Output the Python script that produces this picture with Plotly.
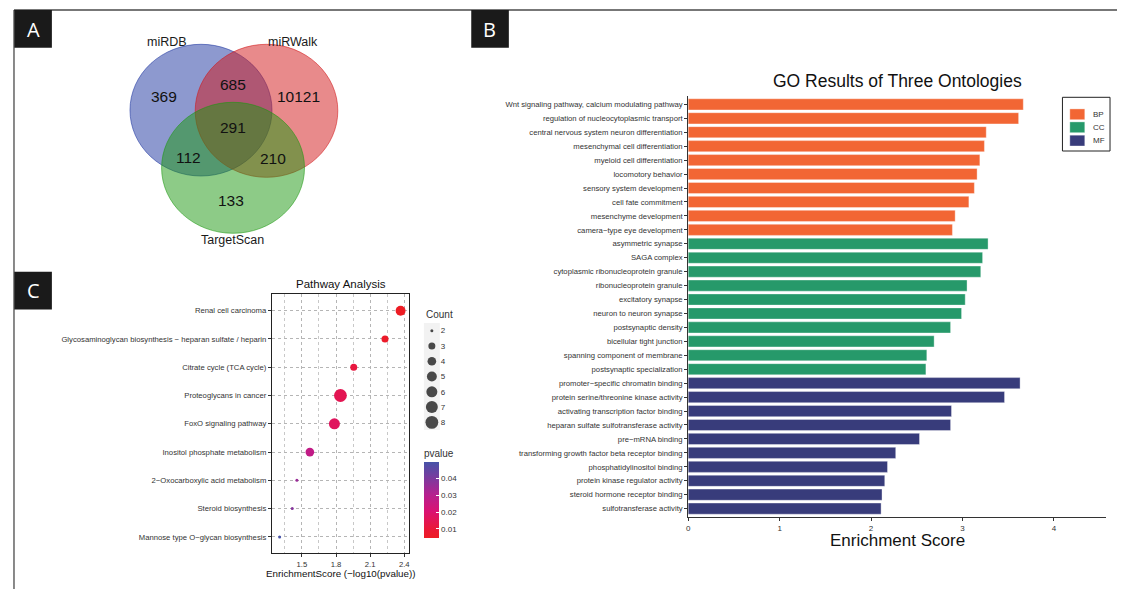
import numpy as np
import plotly.graph_objects as go

W, H = 1126, 597
OFF = 8                      # browser body margin
FW, FH = W - 2 * OFF, H - 2 * OFF
def px(x):
    return (x - OFF) / FW
def py(y):
    return 1 - (y - OFF) / FH

FONT = "Liberation Sans"
TXT = "#333333"

# ---------------- Panel A data (Venn) ----------------
venn_sets = ["miRDB", "miRWalk", "TargetScan"]
venn_regions = ["miRDB only", "miRDB & miRWalk", "miRWalk only", "all three",
                "miRDB & TargetScan", "miRWalk & TargetScan", "TargetScan only"]
venn_counts = [369, 685, 10121, 291, 112, 210, 133]

# ---------------- Panel B data (GO) ----------------
bp_terms = ["Wnt signaling pathway, calcium modulating pathway",
            "regulation of nucleocytoplasmic transport",
            "central nervous system neuron differentiation",
            "mesenchymal cell differentiation",
            "myeloid cell differentiation",
            "locomotory behavior",
            "sensory system development",
            "cell fate commitment",
            "mesenchyme development",
            "camera\u2212type eye development"]
bp_scores = [3.665, 3.614, 3.26, 3.24, 3.19, 3.16, 3.13, 3.07, 2.92, 2.89]

cc_terms = ["asymmetric synapse",
            "SAGA complex",
            "cytoplasmic ribonucleoprotein granule",
            "ribonucleoprotein granule",
            "excitatory synapse",
            "neuron to neuron synapse",
            "postsynaptic density",
            "bicellular tight junction",
            "spanning component of membrane",
            "postsynaptic specialization"]
cc_scores = [3.28, 3.22, 3.20, 3.05, 3.03, 2.99, 2.87, 2.69, 2.61, 2.60]

mf_terms = ["promoter\u2212specific chromatin binding",
            "protein serine/threonine kinase activity",
            "activating transcription factor binding",
            "heparan sulfate sulfotransferase activity",
            "pre\u2212mRNA binding",
            "transforming growth factor beta receptor binding",
            "phosphatidylinositol binding",
            "protein kinase regulator activity",
            "steroid hormone receptor binding",
            "sulfotransferase activity"]
mf_scores = [3.63, 3.46, 2.88, 2.87, 2.53, 2.27, 2.18, 2.15, 2.12, 2.11]

go_groups = ["BP", "CC", "MF"]
go_x_ticks = [0, 1, 2, 3, 4]

# ---------------- Panel C data (pathways) ----------------
path_terms = ["Renal cell carcinoma",
              "Glycosaminoglycan biosynthesis \u2212 heparan sulfate / heparin",
              "Citrate cycle (TCA cycle)",
              "Proteoglycans in cancer",
              "FoxO signaling pathway",
              "Inositol phosphate metabolism",
              "2\u2212Oxocarboxylic acid metabolism",
              "Steroid biosynthesis",
              "Mannose type O\u2212glycan biosynthesis"]
path_scores = [2.368, 2.231, 1.956, 1.839, 1.786, 1.570, 1.456, 1.415, 1.304]
path_counts = [5, 3, 3, 8, 6, 4, 2, 2, 2]
path_x_ticks = [1.5, 1.8, 2.1, 2.4]
count_levels = [2, 3, 4, 5, 6, 7, 8]
pvalue_ticks = [0.01, 0.02, 0.03, 0.04]

# ---------------- styles ----------------
go_colors = {"BP": "#F26634", "CC": "#26996A", "MF": "#383C7B"}
p_colorscale = [[0.0, "#ED1C24"], [0.12, "#EA1838"], [0.35, "#DA1272"],
                [0.57, "#B5208F"], [0.79, "#7B3A9E"], [1.0, "#4653A8"]]

def size_px(c):
    # ggplot-like area scale, size range 1..6, converted to pixel diameter
    lo, hi = min(count_levels), max(count_levels)
    s = 1 + 5 * np.sqrt((c - lo) / (hi - lo))
    return 1.04 + 1.96 * s

fig = go.Figure()

# ---------------- Panel B bars ----------------
all_terms = bp_terms + cc_terms + mf_terms
for grp, terms, scores in zip(go_groups, [bp_terms, cc_terms, mf_terms],
                              [bp_scores, cc_scores, mf_scores]):
    fig.add_trace(go.Bar(
        x=scores, y=terms, orientation="h", name=grp, width=0.8,
        marker=dict(color=go_colors[grp], line=dict(color="rgba(255,255,255,0.6)", width=0.6)),
        xaxis="x", yaxis="y", showlegend=False, hoverinfo="x+y"))

# ---------------- Panel C dots ----------------
pvals = [10 ** (-s) for s in path_scores]
fig.add_trace(go.Scatter(
    x=path_scores, y=path_terms, mode="markers", xaxis="x2", yaxis="y2",
    showlegend=False,
    marker=dict(size=[size_px(c) for c in path_counts], color=pvals,
                colorscale=p_colorscale, cmin=min(pvals), cmax=max(pvals),
                line=dict(width=0), opacity=1,
                colorbar=dict(x=px(423), xanchor="left", y=py(538.4), yanchor="bottom",
                              len=92, lenmode="pixels", thickness=15, thicknessmode="pixels",
                              outlinewidth=0, ticks="inside", ticklen=3, tickcolor="white",
                              tickvals=pvalue_ticks, ticktext=[f"{t:.2f}" for t in pvalue_ticks],
                              tickfont=dict(size=8, color=TXT, family=FONT),
                              title=dict(text="pvalue", side="top",
                                         font=dict(size=10, color=TXT, family=FONT)),
                              xpad=0, ypad=0))))

# Count size legend
fig.add_trace(go.Scatter(
    x=[0] * len(count_levels), y=[str(c) for c in count_levels], mode="markers",
    xaxis="x3", yaxis="y3", showlegend=False, hoverinfo="skip",
    marker=dict(size=[size_px(c) for c in count_levels], color="black", line=dict(width=0))))

axis_common = dict(showgrid=False, zeroline=False)
fig.update_layout(
    width=FW, height=FH, margin=dict(l=0, r=0, t=0, b=0),
    paper_bgcolor="white", plot_bgcolor="white",
    font=dict(family=FONT, color=TXT),
    showlegend=False,
    xaxis=dict(domain=[px(688), px(1107)], range=[0, 4.57], anchor="y",
               tickvals=go_x_ticks, ticktext=[str(t) for t in go_x_ticks],
               ticks="outside", ticklen=3, tickcolor=TXT, showline=True,
               linecolor=TXT, linewidth=1, tickfont=dict(size=8, color=TXT), **axis_common),
    yaxis=dict(domain=[py(517), py(96)], type="category", categoryorder="array",
               categoryarray=all_terms, range=[len(all_terms) - 0.4, -0.6], anchor="x",
               ticks="outside", ticklen=3, tickcolor=TXT, showline=True,
               linecolor=TXT, linewidth=1, tickfont=dict(size=7.7, color=TXT), **axis_common),
    xaxis2=dict(domain=[px(270.7), px(408.3)], range=[1.237, 2.444], anchor="y2",
                tickvals=path_x_ticks, ticktext=[f"{t:.1f}" for t in path_x_ticks],
                ticks="outside", ticklen=3, tickcolor=TXT, showline=True, mirror=True,
                linecolor="#222222", linewidth=1.3, tickfont=dict(size=7.7, color=TXT),
                showgrid=True, gridcolor="#B5B5B5", griddash="dot", gridwidth=0.8,
                minor=dict(tickvals=[1.35, 1.65, 1.95, 2.25], showgrid=True,
                           gridcolor="#C8C8C8", griddash="dot", gridwidth=0.6),
                zeroline=False),
    yaxis2=dict(domain=[py(553.3), py(294)], type="category", categoryorder="array",
                categoryarray=path_terms, range=[len(path_terms) - 0.42, -0.59], anchor="x2",
                ticks="outside", ticklen=3, tickcolor=TXT, showline=True, mirror=True,
                linecolor="#222222", linewidth=1.3, tickfont=dict(size=7.7, color=TXT),
                showgrid=True, gridcolor="#B5B5B5", griddash="dot", gridwidth=0.8,
                zeroline=False),
    xaxis3=dict(domain=[px(423), px(439)], range=[-1, 1], anchor="y3", visible=False),
    yaxis3=dict(domain=[py(430), py(323)], type="category", categoryorder="array",
                categoryarray=[str(c) for c in count_levels], range=[6.5, -0.5],
                anchor="x3", side="right", ticks="", showline=False,
                tickfont=dict(size=8, color=TXT), **axis_common),
)

shapes = []
annos = []

# frame lines
shapes.append(dict(type="line", xref="paper", yref="paper", x0=px(12), x1=1, y0=py(10), y1=py(10),
                   line=dict(color="#4A4A4A", width=1.3)))
shapes.append(dict(type="line", xref="paper", yref="paper", x0=px(12), x1=px(12), y0=py(10), y1=0,
                   line=dict(color="#4A4A4A", width=1.3)))

# panel letters
for letter, (x0, y0) in zip(["A", "B", "C"], [(12.3, 10), (470.5, 10), (12.3, 271.7)]):
    shapes.append(dict(type="rect", xref="paper", yref="paper", x0=px(x0), x1=px(x0 + 37.7),
                       y0=py(y0 + 37.7), y1=py(y0), fillcolor="#1A1A1A", line=dict(width=0)))
    annos.append(dict(text=letter, x=px(x0 + 18.8), y=py(y0 + 19), xref="paper", yref="paper",
                      showarrow=False, font=dict(size=20, color="white", family="Open Sans"),
                      xanchor="center", yanchor="middle"))

# Venn circles (bounding boxes in px)
venn_boxes = [(128.3, 270.7, 44.3, 176.0), (193.7, 336.7, 44.3, 177.3), (160.0, 303.3, 102.3, 233.3)]
venn_rgb = [(27, 51, 159), (209, 21, 23), (27, 151, 15)]
for (x0, x1, y0, y1), (r, g, b) in zip(venn_boxes, venn_rgb):
    shapes.append(dict(type="circle", xref="paper", yref="paper", x0=px(x0), x1=px(x1),
                       y0=py(y1), y1=py(y0), fillcolor=f"rgba({r},{g},{b},0.5)",
                       line=dict(color=f"rgba({r},{g},{b},0.55)", width=1)))
venn_count_pos = [(162.3, 96.7), (231.7, 84.3), (297.7, 96.7), (231.7, 127.7),
                  (186.7, 157.3), (271.7, 159.0), (229.3, 201.0)]
for n, (x, y) in zip(venn_counts, venn_count_pos):
    annos.append(dict(text=str(n), x=px(x), y=py(y), xref="paper", yref="paper", showarrow=False,
                      font=dict(size=15.5, color="#111111", family=FONT),
                      xanchor="center", yanchor="middle"))
venn_label_pos = [(165.0, 41.7), (292.0, 41.7), (230.7, 240.0)]
for name, (x, y) in zip(venn_sets, venn_label_pos):
    annos.append(dict(text=name, x=px(x), y=py(y), xref="paper", yref="paper", showarrow=False,
                      font=dict(size=12.5, color="#1A1A1A", family=FONT),
                      xanchor="center", yanchor="middle"))

# GO legend (drawn to ggplot-like compact layout)
shapes.append(dict(type="rect", xref="paper", yref="paper", x0=px(1063.3), x1=px(1111),
                   y0=py(151), y1=py(97.3), fillcolor="white", line=dict(color="#222222", width=1)))
for grp, yc in zip(go_groups, [114.3, 127.3, 140.6]):
    shapes.append(dict(type="rect", xref="paper", yref="paper", x0=px(1070.7), x1=px(1085.7),
                       y0=py(yc + 5.4), y1=py(yc - 5.4), fillcolor=go_colors[grp],
                       line=dict(color="rgba(255,255,255,0.6)", width=0.6)))
    annos.append(dict(text=grp, x=px(1091.5), y=py(yc), xref="paper", yref="paper", showarrow=False,
                      font=dict(size=8, color=TXT), xanchor="left", yanchor="middle"))

# titles
annos.append(dict(text="GO Results of Three Ontologies", x=px(897.5), y=py(81), xref="paper", yref="paper",
                  showarrow=False, font=dict(size=17.5, color="#111111"), xanchor="center", yanchor="middle"))
annos.append(dict(text="Enrichment Score", x=px(897.5), y=py(540), xref="paper", yref="paper",
                  showarrow=False, font=dict(size=17, color="#111111"), xanchor="center", yanchor="middle"))
annos.append(dict(text="Pathway Analysis", x=px(339.5), y=py(283.8), xref="paper", yref="paper",
                  showarrow=False, font=dict(size=11.5, color="#111111"), xanchor="center", yanchor="middle"))
annos.append(dict(text="EnrichmentScore (\u2212log10(pvalue))", x=px(339.5), y=py(573), xref="paper",
                  yref="paper", showarrow=False, font=dict(size=9.8, color="#111111"),
                  xanchor="center", yanchor="middle"))
annos.append(dict(text="Count", x=px(423), y=py(314), xref="paper", yref="paper", showarrow=False,
                  font=dict(size=10, color=TXT), xanchor="left", yanchor="middle"))

# count legend key background
shapes.append(dict(type="rect", xref="paper", yref="paper", x0=px(423), x1=px(439),
                   y0=py(430), y1=py(323), fillcolor="#F2F2F2", line=dict(width=0), layer="below"))

fig.update_layout(shapes=shapes, annotations=annos)
fig.write_html("out.html")
